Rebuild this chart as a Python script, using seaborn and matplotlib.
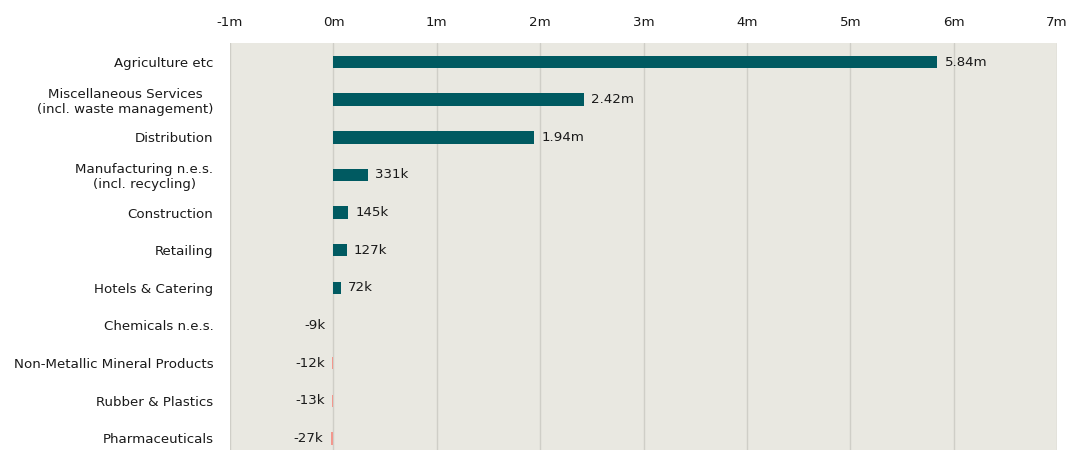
import matplotlib
matplotlib.use("Agg")
import matplotlib.pyplot as plt
import seaborn as sns
import pandas as pd
from matplotlib.ticker import FuncFormatter

# sectors and values (millions)
sectors = [
    "Agriculture etc",
    "Miscellaneous Services\n(incl. waste management)",
    "Distribution",
    "Manufacturing n.e.s.\n(incl. recycling)",
    "Construction",
    "Retailing",
    "Hotels & Catering",
    "Chemicals n.e.s.",
    "Non-Metallic Mineral Products",
    "Rubber & Plastics",
    "Pharmaceuticals",
]
values = [5.84, 2.42, 1.94, 0.331, 0.145, 0.127, 0.072, -0.009, -0.012, -0.013, -0.027]
value_labels = ["5.84m", "2.42m", "1.94m", "331k", "145k", "127k", "72k", "-9k", "-12k", "-13k", "-27k"]

df = pd.DataFrame({"sector": sectors, "value": values})
df["sign"] = ["pos" if v >= 0 else "neg" for v in values]

sns.set_style("white")
plt.rcParams["font.family"] = ["DejaVu Sans"]

fig = plt.figure(figsize=(10.7, 4.5), dpi=100)
ax = fig.add_axes([0.215, -0.016, 0.773, 0.92])
ax.set_facecolor("#e9e8e1")

sns.barplot(data=df, x="value", y="sector", hue="sign",
            palette={"pos": "#005a61", "neg": "#f2978d"}, saturation=1,
            width=0.33, legend=False, ax=ax, zorder=3, linewidth=0)

ax.set_xlim(-1, 7)
ax.set_xticks(range(-1, 8))
ax.xaxis.set_major_formatter(FuncFormatter(lambda v, p: f"{int(v)}m"))
ax.xaxis.tick_top()
ax.grid(axis="x", color="#cfcec7", linewidth=1, zorder=0)
ax.set_axisbelow(True)
for s in ax.spines.values():
    s.set_visible(False)
ax.tick_params(axis="x", length=0, labelsize=9.6, colors="#1a1a1a", pad=10)
ax.tick_params(axis="y", length=0, labelsize=9.6, colors="#1a1a1a", pad=12)
ax.set_xlabel("")
ax.set_ylabel("")
for lbl in ax.get_yticklabels():
    lbl.set_multialignment("center")

for i, (v, t) in enumerate(zip(values, value_labels)):
    if v >= 0:
        ax.text(v + 0.07, i, t, va="center", ha="left", fontsize=9.6, color="#1a1a1a")
    else:
        ax.text(v - 0.07, i, t, va="center", ha="right", fontsize=9.6, color="#1a1a1a")

fig.savefig("out.png", dpi=100)
